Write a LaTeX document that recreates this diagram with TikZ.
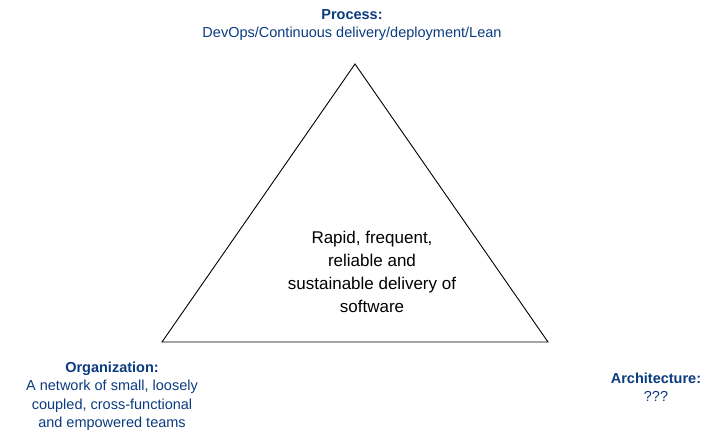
\documentclass[tikz,border=0pt]{standalone}
\usepackage{fontspec}
\setmainfont{Liberation Sans}
\definecolor{lbl}{HTML}{0B3B80}
\begin{document}
\begin{tikzpicture}[x=1pt,y=-1pt,
  lab/.style={text=lbl,align=center,font=\fontsize{14.5}{18.5}\selectfont,inner sep=0pt},
  main/.style={align=center,font=\fontsize{17}{23}\selectfont,inner sep=0pt}]
\useasboundingbox (0,0) rectangle (713,437);
\coordinate (top) at (355,64);
\coordinate (bl) at (162,342);
\coordinate (br) at (548,342);
\draw[line width=0.9pt,line join=miter] (top) -- (bl) -- (br) -- cycle;
\node[main] (c) at (372,272) {Rapid, frequent,\\reliable and\\sustainable delivery of\\software};
\node[lab] (p) at (352,25) {\textbf{Process:}\\DevOps/Continuous delivery/deployment/Lean};
\node[lab] (o) at (112,396) {\textbf{Organization:}\\A network of small, loosely\\coupled, cross-functional\\and empowered teams};
\node[lab] (a) at (656,387) {\textbf{Architecture:}\\???};
\end{tikzpicture}
\end{document}
